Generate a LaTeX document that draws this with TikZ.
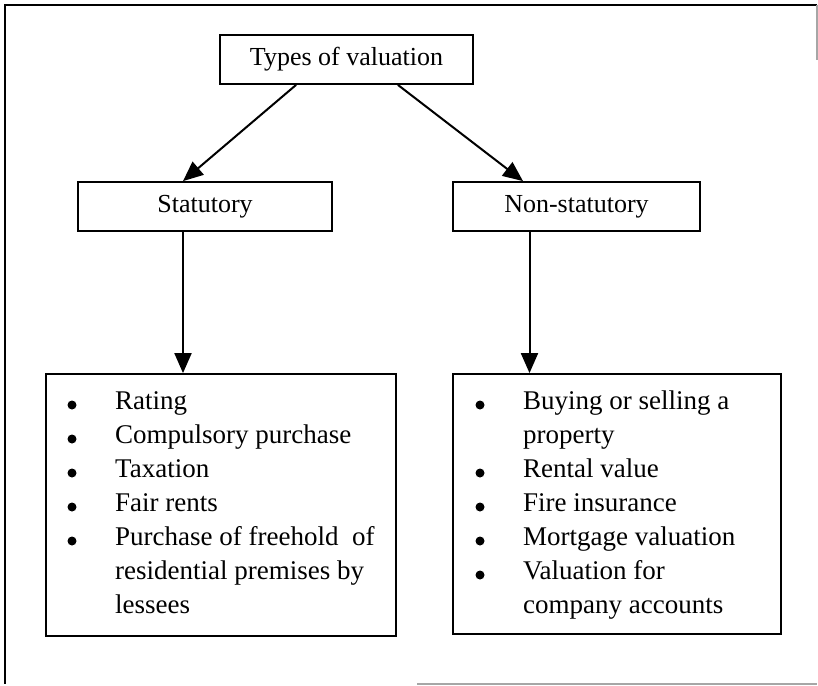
\documentclass[tikz,border=0pt]{standalone}
\usepackage{fontspec}
\setmainfont{Liberation Serif}
\usetikzlibrary{arrows.meta}
\begin{document}
\begin{tikzpicture}[x=1pt,y=-1pt,
  box/.style={draw, line width=1.8pt, inner sep=0pt, font=\fontsize{26}{30}\selectfont},
  arr/.style={line width=2pt, -{Triangle[length=20pt,width=17pt]}},
  item/.style={anchor=base west, inner sep=0pt, font=\fontsize{27}{31}\selectfont},
  dot/.style={circle, fill, inner sep=0pt, minimum size=9pt}]
\useasboundingbox (0,0) rectangle (818,685);
% frame
\draw[line width=2pt] (817,5) -- (5,5) -- (5,684);
\draw[gray!70, line width=1.2pt] (817,5) -- (817,60);
\draw[gray!70, line width=1.2pt] (417,684) -- (817,684);
% boxes
\node[box, minimum width=253pt, minimum height=49pt] (top) at (346.5,59.5) {Types of valuation};
\node[box, minimum width=254pt, minimum height=49pt] (stat) at (205,206.5) {Statutory};
\node[box, minimum width=247pt, minimum height=49pt] (non) at (576.5,206.5) {Non-statutory};
\node[box, minimum width=350pt, minimum height=262pt] (lbox) at (221,505) {};
\node[box, minimum width=328pt, minimum height=260pt] (rbox) at (617,504) {};
% connectors
\draw[arr] ([xshift=77pt]top.south west) -- ([xshift=-22pt]stat.north);
\draw[arr] ([xshift=-76pt]top.south east) -- ([xshift=-53.5pt]non.north);
\draw[arr] ([xshift=-22pt]stat.south) -- ([xshift=-22pt]stat.south |- lbox.north);
\draw[arr] ([xshift=-47pt]non.south) -- ([xshift=-47pt]non.south |- rbox.north);
% left list
\node[dot] (lb0) at (72,405) {};
\node[dot] (lb1) at (72,439) {};
\node[dot] (lb2) at (72,473) {};
\node[dot] (lb3) at (72,507) {};
\node[dot] (lb4) at (72,541) {};
\node[item] (lt0) at (115,409) {Rating};
\node[item] (lt1) at (115,443) {Compulsory purchase};
\node[item] (lt2) at (115,477) {Taxation};
\node[item] (lt3) at (115,511) {Fair rents};
\node[item] (lt4) at (115,545) {Purchase of freehold\ \ of};
\node[item] (lt5) at (115,579) {residential premises by};
\node[item] (lt6) at (115,613) {lessees};
% right list
\node[dot] (rb0) at (480,405) {};
\node[dot] (rb2) at (480,473) {};
\node[dot] (rb3) at (480,507) {};
\node[dot] (rb4) at (480,541) {};
\node[dot] (rb5) at (480,575) {};
\node[item] (rt0) at (523,409) {Buying or selling a};
\node[item] (rt1) at (523,443) {property};
\node[item] (rt2) at (523,477) {Rental value};
\node[item] (rt3) at (523,511) {Fire insurance};
\node[item] (rt4) at (523,545) {Mortgage valuation};
\node[item] (rt5) at (523,579) {Valuation for};
\node[item] (rt6) at (523,613) {company accounts};
\end{tikzpicture}
\end{document}
